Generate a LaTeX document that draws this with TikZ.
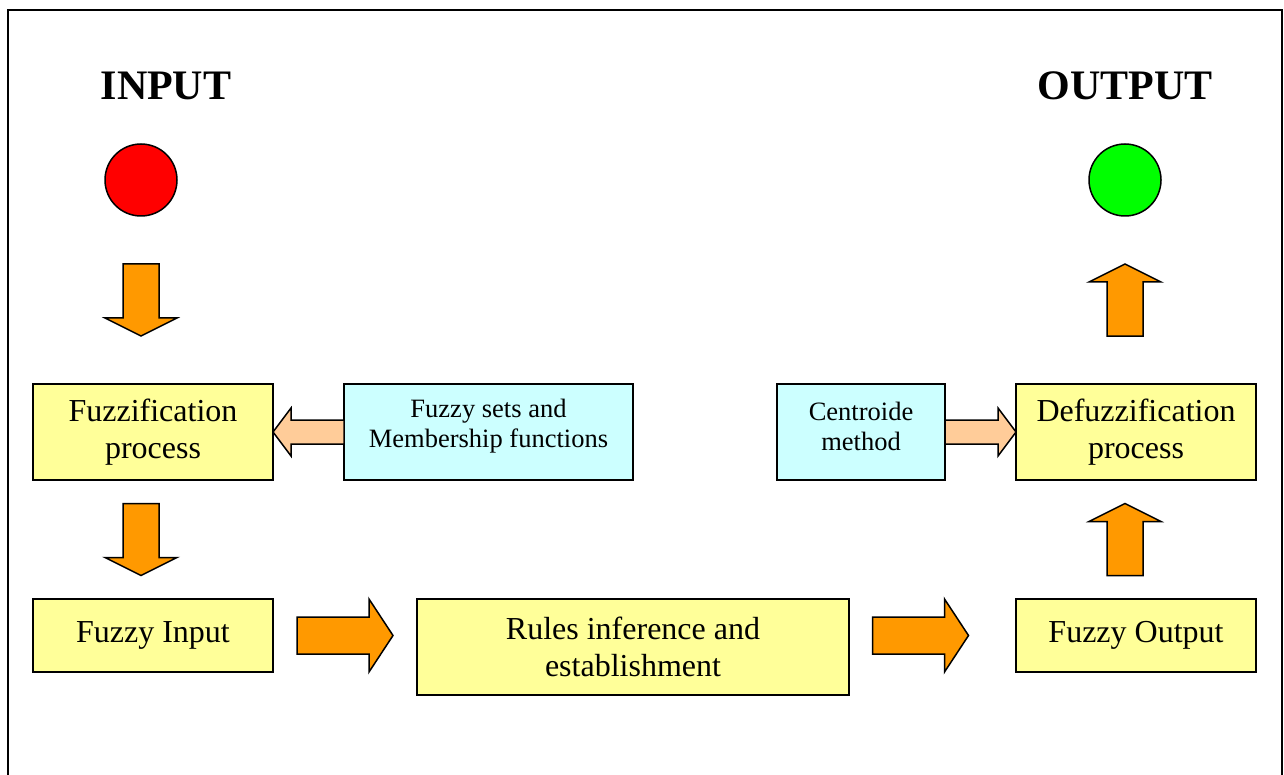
\documentclass[tikz,border=0pt]{standalone}
\usepackage{fontspec}
\setmainfont{Liberation Serif}
\usetikzlibrary{calc}

\definecolor{boxyellow}{HTML}{FFFF99}
\definecolor{boxcyan}{HTML}{CCFFFF}
\definecolor{arrorange}{HTML}{FF9900}
\definecolor{arrpeach}{HTML}{FFCC99}

% block arrow: centre, angle, length, shaft, head, head length, colour
\newcommand{\fatarrow}[7]{%
  \begin{scope}[shift={(#1)}, rotate=#2]
    \draw[fill=#7] ({-#3/2},{-#4/2}) -- ({#3/2-#6},{-#4/2}) -- ({#3/2-#6},{-#5/2})
      -- ({#3/2},0) -- ({#3/2-#6},{#5/2}) -- ({#3/2-#6},{#4/2}) -- ({-#3/2},{#4/2}) -- cycle;
  \end{scope}}

\begin{document}
\begin{tikzpicture}[x=1pt, y=-1pt, line width=1.5pt,
  procbox/.style={draw, fill=boxyellow, align=center, inner sep=0pt, font=\fontsize{32}{37}\selectfont},
  infobox/.style={draw, fill=boxcyan, align=center, inner sep=0pt, minimum height=96pt, font=\fontsize{26.5}{30}\selectfont},
  title/.style={font=\fontsize{42}{48}\selectfont\bfseries, anchor=base},
  dot/.style={draw, circle, minimum size=72pt, inner sep=0pt}]

\useasboundingbox (0,0) rectangle (1284,775);
\draw (8,10) rectangle (1282,800);

\node[title] (intitle) at (166,100) {INPUT};
\node[title] (outtitle) at (1125,100) {OUTPUT};
\node[dot, fill=red] (inputdot) at (141,180) {};
\node[dot, fill=green] (outputdot) at (1125,180) {};

\node[procbox, minimum width=240pt, minimum height=96pt] (fuzzproc) at (153,432) {Fuzzification\\process};
\node[infobox, minimum width=289pt, text depth=18pt] (fuzzsets) at (488.5,432) {Fuzzy sets and\\Membership functions};
\node[procbox, minimum width=240pt, minimum height=73pt] (fuzzin) at (153,635.5) {Fuzzy Input};
\node[procbox, minimum width=432pt, minimum height=96pt] (rules) at (633,647) {Rules inference and\\establishment};
\node[infobox, minimum width=168pt, text depth=12pt] (centroid) at (861,432) {Centroide\\method};
\node[procbox, minimum width=240pt, minimum height=96pt] (defuzz) at (1136,432) {Defuzzification\\process};
\node[procbox, minimum width=240pt, minimum height=73pt] (fuzzout) at (1136,635.5) {Fuzzy Output};

% arrow centres
\coordinate (down1) at ($(inputdot.south)!0.5!(inputdot.south |- fuzzproc.north)$);
\coordinate (down2) at ($(inputdot |- fuzzproc.south)!0.5!(inputdot |- fuzzin.north)$);
\coordinate (right1) at ($(fuzzin.east)!0.5!(fuzzin.east -| rules.west)$);
\coordinate (right2) at ($(rules.east |- fuzzout.west)!0.5!(fuzzout.west) + (-12,0)$);
\coordinate (up1) at ($(outputdot |- fuzzout.north)!0.5!(outputdot |- defuzz.south)$);
\coordinate (up2) at ($(outputdot.south)!0.5!(outputdot.south |- defuzz.north)$);
\coordinate (left1) at ($(fuzzsets.west)!0.5!(fuzzproc.east)$);
\coordinate (left2) at ($(centroid.east)!0.5!(defuzz.west)$);

\fatarrow{down1}{-90}{72}{36}{72}{18}{arrorange}
\fatarrow{down2}{-90}{72}{36}{72}{18}{arrorange}
\fatarrow{right1}{0}{96}{37}{73}{24}{arrorange}
\fatarrow{right2}{0}{96}{37}{73}{24}{arrorange}
\fatarrow{up1}{90}{72}{36}{72}{18}{arrorange}
\fatarrow{up2}{90}{72}{36}{72}{18}{arrorange}
\fatarrow{left1}{180}{71}{24}{48}{18}{arrpeach}
\fatarrow{left2}{0}{71}{24}{48}{18}{arrpeach}

\end{tikzpicture}
\end{document}
